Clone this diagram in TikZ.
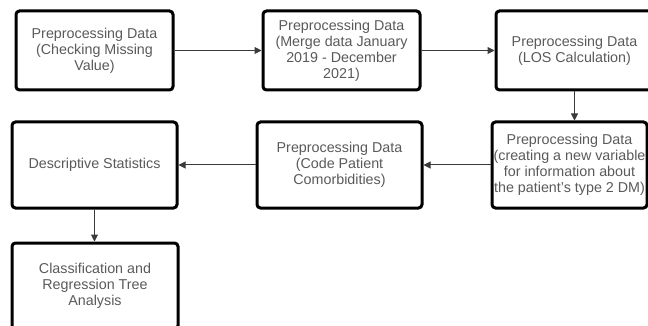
\documentclass[tikz,border=0pt]{standalone}
\usepackage{fontspec}
\setmainfont{Liberation Sans}
\usetikzlibrary{arrows.meta,calc,positioning}
\definecolor{boxtext}{HTML}{5A5A5A}
\definecolor{wire}{HTML}{3A3A3A}
\tikzset{>={Triangle[length=7pt,width=7pt]},
  every node/.style={font=\fontsize{14.3}{16}\selectfont},
  stagebox/.style={draw=black,line width=3pt,rounded corners=3.5pt,inner sep=0pt,
    align=center,text=boxtext,fill=white},
  flow/.style={->,draw=wire,fill=wire,line width=1pt}}

\begin{document}
\begin{tikzpicture}[x=1pt,y=-1pt]
\useasboundingbox (0,0) rectangle (648,326);
\clip (0,0) rectangle (648,326);
% top row of preprocessing steps
\node[stagebox,minimum width=157pt,minimum height=79pt] (missing) at (94.5,50.5) {Preprocessing Data\\(Checking Missing\\Value)};
\node[stagebox,minimum width=157pt,minimum height=79pt] (merge) at (341.5,50.5) {Preprocessing Data\\(Merge data January\\2019 - December\\2021)};
\node[stagebox,minimum width=157pt,minimum height=79pt] (los) at (574.5,50.5) {Preprocessing Data\\(LOS Calculation)};
% second row runs back to the left
\node[stagebox,minimum width=155pt,minimum height=86pt] (dmvar) at (569.5,165) {Preprocessing Data\\(creating a new variable\\for information about\\the patient's type 2 DM)};
\node[stagebox,minimum width=165pt,minimum height=86pt] (comorb) at (339.5,165) {Preprocessing Data\\(Code Patient\\Comorbidities)};
\node[stagebox,minimum width=165pt,minimum height=86pt] (descr) at (94.5,165) {Descriptive Statistics};
\node[stagebox,minimum width=166pt,minimum height=86pt] (cart) at (95,286) {Classification and\\Regression Tree\\Analysis};
\draw[flow] (missing)--(merge);
\draw[flow] (merge)--(los);
\draw[flow] (los.south)--(los.south |- dmvar.north);
\draw[flow] (dmvar)--(comorb);
\draw[flow] (comorb)--(descr);
\draw[flow] (descr.south)--(descr.south |- cart.north);
\end{tikzpicture}
\end{document}
